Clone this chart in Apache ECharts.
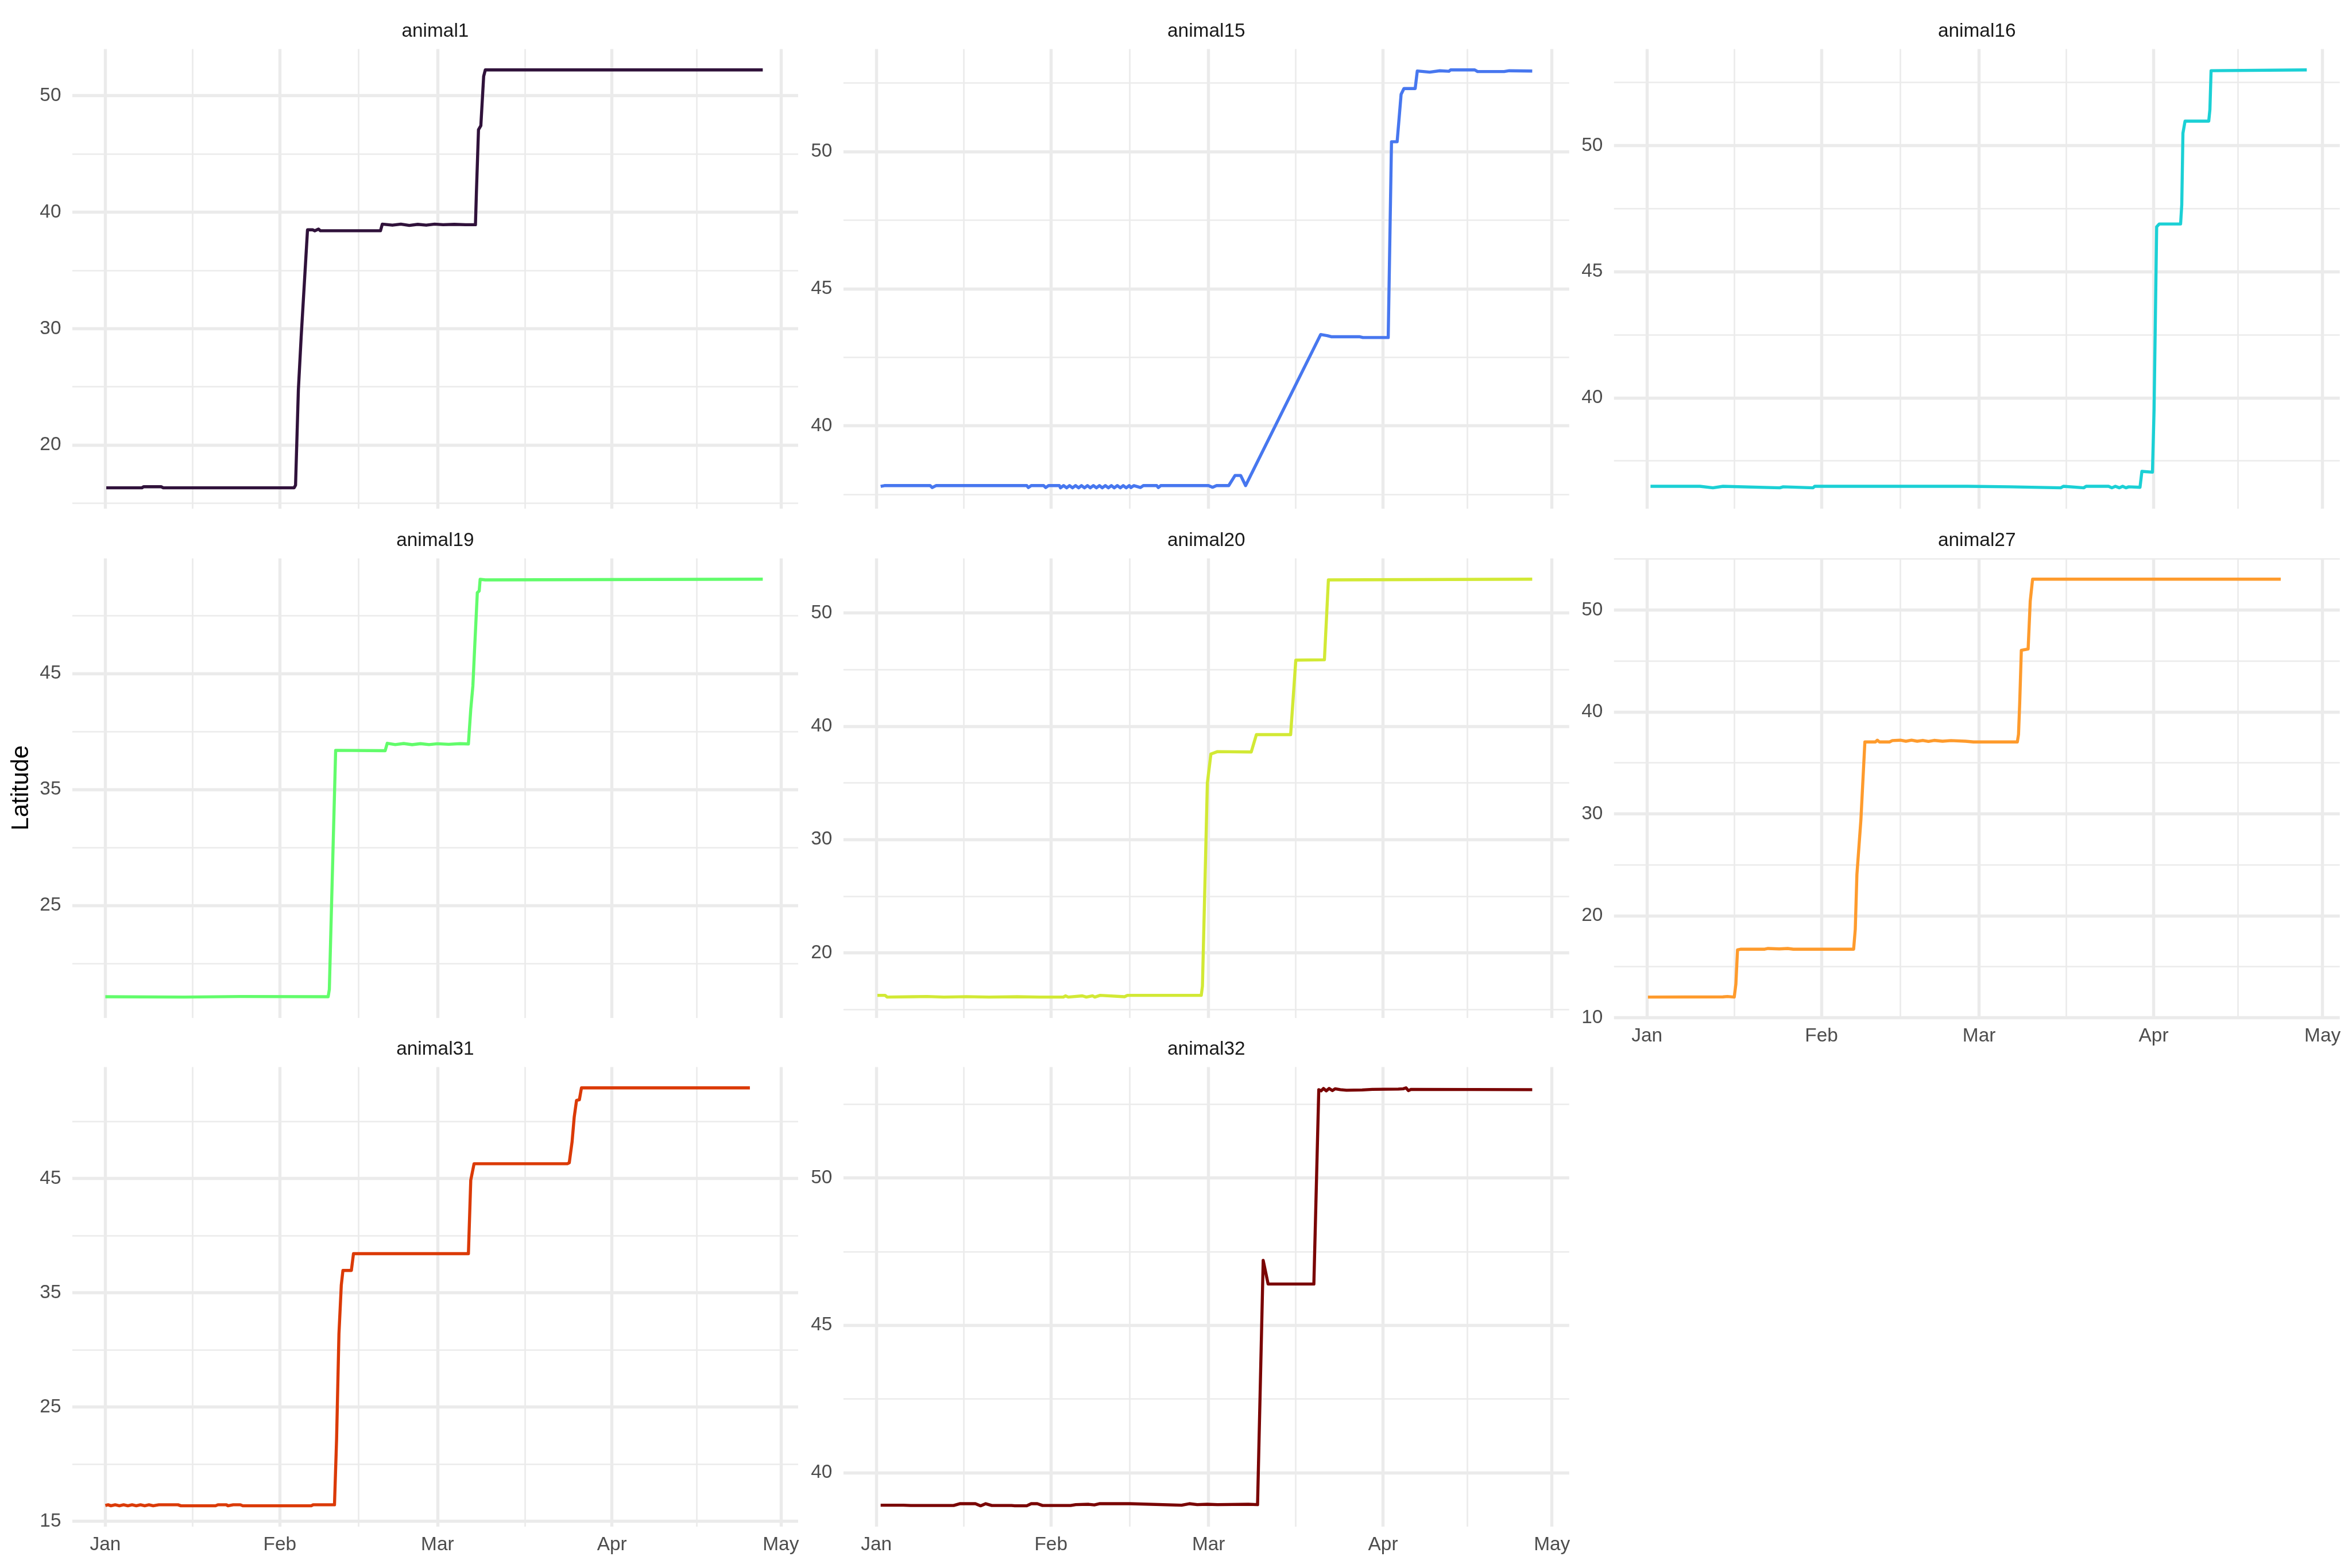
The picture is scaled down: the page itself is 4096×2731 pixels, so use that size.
<!DOCTYPE html>
<html><head><meta charset="utf-8">
<script src="https://cdn.jsdelivr.net/npm/echarts@6/dist/echarts.min.js"></script>
<style>html,body{margin:0;padding:0;background:#fff}#c{width:4096px;height:2731px}</style>
</head><body><div id="c"></div><script>
// ---------------- data ----------------
const panelNames = ['animal1','animal15','animal16','animal19','animal20','animal27','animal31','animal32'];
const panelColors = ['#30123B','#4777EF','#1BD0D5','#62FC6B','#D2E935','#FE9B2D','#DB3A07','#7A0403'];

const monthTickDates = ['2023-01-01 00:00','2023-02-01 00:00','2023-03-01 00:00','2023-04-01 00:00','2023-05-01 00:00'];
const monthTickLabels = ['Jan','Feb','Mar','Apr','May'];
const monthMinorDates = ['2023-01-16 12:00','2023-02-15 00:00','2023-03-16 12:00','2023-04-16 00:00'];

const yMajorTicks = [[20,30,40,50],[40,45,50],[40,45,50],[25,35,45],[20,30,40,50],[10,20,30,40,50],[15,25,35,45],[40,45,50]];
const yMinorTicks = [[15,25,35,45],[37.5,42.5,47.5,52.5],[37.5,42.5,47.5,52.5],[20,30,40,50],[15,25,35,45],[15,25,35,45,55],[20,30,40,50],[42.5,47.5,52.5]];

const animal1 = [['2023-01-01 04:00',16.33],['2023-01-07 12:00',16.33],['2023-01-07 19:00',16.42],['2023-01-10 22:00',16.42],['2023-01-11 07:00',16.33],['2023-02-03 13:00',16.33],['2023-02-03 19:00',16.56],['2023-02-04 07:00',24.73],['2023-02-04 19:00',29.31],['2023-02-05 22:00',38.48],['2023-02-06 20:00',38.48],['2023-02-07 05:00',38.40],['2023-02-07 21:00',38.54],['2023-02-08 05:00',38.40],['2023-02-18 21:00',38.40],['2023-02-19 05:00',38.97],['2023-02-21 00:00',38.88],['2023-02-22 12:00',38.97],['2023-02-24 00:00',38.86],['2023-02-25 12:00',38.95],['2023-02-27 00:00',38.88],['2023-02-28 12:00',38.97],['2023-03-02 00:00',38.92],['2023-03-04 00:00',38.95],['2023-03-06 00:00',38.92],['2023-03-07 18:00',38.92],['2023-03-07 22:00',41.63],['2023-03-08 07:00',47.08],['2023-03-08 17:00',47.42],['2023-03-09 05:00',51.66],['2023-03-09 12:00',52.21],['2023-04-27 19:00',52.21]];

const animal15 = [['2023-01-01 18:00',37.79],['2023-01-02 10:00',37.82],['2023-01-10 13:00',37.82],['2023-01-10 22:00',37.75],['2023-01-11 14:00',37.82],['2023-01-27 17:00',37.82],['2023-01-28 00:00',37.75],['2023-01-28 12:00',37.82],['2023-01-30 17:00',37.82],['2023-01-31 02:00',37.75],['2023-01-31 14:00',37.82],['2023-02-02 12:00',37.82],['2023-02-02 17:00',37.74],['2023-02-03 06:00',37.82],['2023-02-03 19:00',37.74],['2023-02-04 07:00',37.82],['2023-02-04 20:00',37.74],['2023-02-05 09:00',37.82],['2023-02-05 22:00',37.74],['2023-02-06 10:00',37.82],['2023-02-06 23:00',37.74],['2023-02-07 12:00',37.82],['2023-02-08 00:00',37.74],['2023-02-08 13:00',37.82],['2023-02-09 02:00',37.74],['2023-02-09 15:00',37.82],['2023-02-10 03:00',37.74],['2023-02-10 16:00',37.82],['2023-02-11 05:00',37.74],['2023-02-11 18:00',37.82],['2023-02-12 06:00',37.74],['2023-02-12 19:00',37.82],['2023-02-13 08:00',37.74],['2023-02-13 20:00',37.82],['2023-02-14 09:00',37.74],['2023-02-14 22:00',37.82],['2023-02-15 05:00',37.75],['2023-02-15 18:00',37.82],['2023-02-16 22:00',37.75],['2023-02-17 10:00',37.82],['2023-02-19 19:00',37.82],['2023-02-20 02:00',37.75],['2023-02-20 12:00',37.82],['2023-03-01 00:00',37.82],['2023-03-01 17:00',37.76],['2023-03-02 10:00',37.82],['2023-03-04 14:00',37.82],['2023-03-05 17:00',38.19],['2023-03-06 17:00',38.19],['2023-03-07 14:00',37.82],['2023-03-20 22:00',43.33],['2023-03-22 02:00',43.29],['2023-03-22 19:00',43.25],['2023-03-27 19:00',43.25],['2023-03-28 10:00',43.22],['2023-04-01 22:00',43.22],['2023-04-02 12:00',50.36],['2023-04-03 12:00',50.36],['2023-04-04 05:00',52.09],['2023-04-04 17:00',52.30],['2023-04-06 17:00',52.30],['2023-04-07 02:00',52.94],['2023-04-09 07:00',52.90],['2023-04-11 02:00',52.95],['2023-04-12 17:00',52.93],['2023-04-13 00:00',52.98],['2023-04-17 07:00',52.98],['2023-04-17 19:00',52.92],['2023-04-22 12:00',52.92],['2023-04-23 10:00',52.95],['2023-04-27 12:00',52.94]];

const animal16 = [['2023-01-01 15:00',36.49],['2023-01-10 10:00',36.49],['2023-01-12 17:00',36.43],['2023-01-14 12:00',36.49],['2023-01-24 14:00',36.43],['2023-01-25 05:00',36.47],['2023-01-30 12:00',36.43],['2023-01-30 19:00',36.49],['2023-02-27 00:00',36.49],['2023-03-06 12:00',36.47],['2023-03-15 12:00',36.43],['2023-03-16 00:00',36.49],['2023-03-19 14:00',36.43],['2023-03-20 00:00',36.49],['2023-03-24 00:00',36.49],['2023-03-24 14:00',36.43],['2023-03-25 05:00',36.49],['2023-03-25 22:00',36.43],['2023-03-26 12:00',36.49],['2023-03-27 02:00',36.43],['2023-03-27 14:00',36.47],['2023-03-29 14:00',36.45],['2023-03-29 22:00',37.08],['2023-03-31 19:00',37.05],['2023-04-01 02:00',39.54],['2023-04-01 13:00',46.78],['2023-04-02 00:00',46.89],['2023-04-05 19:00',46.89],['2023-04-06 00:00',47.65],['2023-04-06 05:00',50.49],['2023-04-06 14:00',50.97],['2023-04-10 19:00',50.97],['2023-04-11 00:00',51.43],['2023-04-11 05:00',52.97],['2023-04-28 05:00',53.00]];

const animal19 = [['2023-01-01 00:00',17.12],['2023-01-15 00:00',17.09],['2023-01-25 00:00',17.14],['2023-02-09 14:00',17.12],['2023-02-09 19:00',17.75],['2023-02-10 10:00',29.26],['2023-02-10 22:00',38.38],['2023-02-19 17:00',38.35],['2023-02-20 02:00',38.99],['2023-02-21 12:00',38.88],['2023-02-23 00:00',38.97],['2023-02-24 12:00',38.87],['2023-02-26 00:00',38.96],['2023-02-27 12:00',38.88],['2023-03-01 00:00',38.95],['2023-03-03 00:00',38.90],['2023-03-05 00:00',38.96],['2023-03-06 12:00',38.93],['2023-03-06 22:00',41.92],['2023-03-07 07:00',43.94],['2023-03-07 14:00',46.96],['2023-03-08 02:00',51.99],['2023-03-08 10:00',52.14],['2023-03-08 14:00',53.14],['2023-03-09 12:00',53.09],['2023-04-27 19:00',53.15]];

const animal20 = [['2023-01-01 04:00',16.24],['2023-01-02 13:00',16.24],['2023-01-02 22:00',16.09],['2023-01-07 12:00',16.12],['2023-01-10 00:00',16.14],['2023-01-13 00:00',16.09],['2023-01-17 00:00',16.13],['2023-01-21 00:00',16.09],['2023-01-26 00:00',16.12],['2023-01-30 00:00',16.09],['2023-02-03 05:00',16.09],['2023-02-03 14:00',16.20],['2023-02-04 02:00',16.09],['2023-02-06 14:00',16.20],['2023-02-07 07:00',16.09],['2023-02-08 10:00',16.20],['2023-02-08 19:00',16.09],['2023-02-09 18:00',16.24],['2023-02-14 02:00',16.12],['2023-02-14 14:00',16.24],['2023-02-27 17:00',16.24],['2023-02-27 22:00',17.06],['2023-02-28 19:00',34.99],['2023-03-01 10:00',37.54],['2023-03-01 22:00',37.63],['2023-03-02 14:00',37.75],['2023-03-08 14:00',37.72],['2023-03-09 12:00',39.25],['2023-03-15 14:00',39.25],['2023-03-16 12:00',45.83],['2023-03-21 14:00',45.86],['2023-03-22 07:00',52.91],['2023-04-27 12:00',52.97]];

const animal27 = [['2023-01-01 04:00',12.01],['2023-01-14 12:00',12.03],['2023-01-15 07:00',12.07],['2023-01-16 12:00',12.01],['2023-01-16 19:00',13.29],['2023-01-17 02:00',16.64],['2023-01-17 17:00',16.71],['2023-01-21 22:00',16.71],['2023-01-22 12:00',16.78],['2023-01-24 12:00',16.74],['2023-01-26 00:00',16.78],['2023-01-27 00:00',16.71],['2023-02-06 17:00',16.71],['2023-02-07 00:00',18.66],['2023-02-07 07:00',24.03],['2023-02-08 00:00',29.40],['2023-02-08 17:00',37.05],['2023-02-10 14:00',37.05],['2023-02-10 22:00',37.22],['2023-02-11 07:00',37.05],['2023-02-13 02:00',37.05],['2023-02-13 14:00',37.18],['2023-02-15 00:00',37.22],['2023-02-16 00:00',37.12],['2023-02-17 00:00',37.22],['2023-02-18 00:00',37.12],['2023-02-19 00:00',37.20],['2023-02-20 00:00',37.10],['2023-02-21 00:00',37.20],['2023-02-22 12:00',37.12],['2023-02-24 00:00',37.18],['2023-02-26 14:00',37.12],['2023-02-28 00:00',37.05],['2023-03-07 19:00',37.05],['2023-03-08 00:00',37.79],['2023-03-08 05:00',40.81],['2023-03-08 12:00',46.04],['2023-03-09 17:00',46.17],['2023-03-10 02:00',50.87],['2023-03-10 12:00',53.02],['2023-04-23 14:00',53.02]];

const animal31 = [['2023-01-01 00:00',16.38],['2023-01-01 12:00',16.44],['2023-01-02 00:00',16.35],['2023-01-02 18:00',16.44],['2023-01-03 12:00',16.35],['2023-01-04 06:00',16.44],['2023-01-05 00:00',16.35],['2023-01-05 18:00',16.44],['2023-01-06 12:00',16.35],['2023-01-07 06:00',16.44],['2023-01-08 00:00',16.35],['2023-01-08 18:00',16.44],['2023-01-09 12:00',16.35],['2023-01-10 12:00',16.44],['2023-01-13 22:00',16.44],['2023-01-14 10:00',16.35],['2023-01-20 14:00',16.35],['2023-01-21 00:00',16.44],['2023-01-22 12:00',16.44],['2023-01-22 19:00',16.35],['2023-01-23 17:00',16.44],['2023-01-25 00:00',16.44],['2023-01-25 10:00',16.35],['2023-02-06 14:00',16.35],['2023-02-06 22:00',16.44],['2023-02-10 17:00',16.44],['2023-02-11 02:00',22.19],['2023-02-11 12:00',31.38],['2023-02-11 22:00',35.66],['2023-02-12 05:00',36.95],['2023-02-13 17:00',36.95],['2023-02-14 02:00',38.42],['2023-03-06 12:00',38.42],['2023-03-06 22:00',44.85],['2023-03-07 12:00',46.29],['2023-03-24 02:00',46.29],['2023-03-24 10:00',46.38],['2023-03-24 22:00',48.21],['2023-03-25 07:00',50.36],['2023-03-25 17:00',51.83],['2023-03-26 05:00',51.89],['2023-03-26 14:00',52.93],['2023-04-25 12:00',52.93]];

const animal32 = [['2023-01-01 18:00',38.90],['2023-01-05 19:00',38.90],['2023-01-07 02:00',38.89],['2023-01-14 17:00',38.89],['2023-01-15 19:00',38.95],['2023-01-18 14:00',38.95],['2023-01-19 12:00',38.88],['2023-01-20 10:00',38.95],['2023-01-21 12:00',38.89],['2023-01-25 00:00',38.89],['2023-01-25 14:00',38.88],['2023-01-27 17:00',38.88],['2023-01-28 12:00',38.95],['2023-01-29 14:00',38.95],['2023-01-30 12:00',38.89],['2023-02-04 12:00',38.89],['2023-02-05 10:00',38.92],['2023-02-07 17:00',38.93],['2023-02-08 17:00',38.91],['2023-02-09 14:00',38.95],['2023-02-15 02:00',38.95],['2023-02-24 05:00',38.90],['2023-02-25 14:00',38.95],['2023-02-27 00:00',38.92],['2023-02-28 19:00',38.93],['2023-03-02 14:00',38.92],['2023-03-08 02:00',38.93],['2023-03-09 17:00',38.92],['2023-03-10 17:00',47.20],['2023-03-11 14:00',46.40],['2023-03-19 17:00',46.40],['2023-03-20 14:00',52.99],['2023-03-21 00:00',52.95],['2023-03-21 10:00',53.03],['2023-03-21 22:00',52.95],['2023-03-22 10:00',53.03],['2023-03-23 00:00',52.96],['2023-03-23 12:00',53.02],['2023-03-24 10:00',52.99],['2023-03-25 12:00',52.97],['2023-03-28 07:00',52.98],['2023-03-30 02:00',53.00],['2023-04-03 17:00',53.01],['2023-04-04 14:00',53.02],['2023-04-05 02:00',53.05],['2023-04-05 12:00',52.96],['2023-04-06 00:00',53.00],['2023-04-27 12:00',52.99]];

// ---------------- layout ----------------
const S = 4096 / 4500;
const FONT = '"Liberation Sans", Arial, Helvetica, sans-serif';
const colLeft = [138.4, 1613.7, 3088.0];
const rowTop = [93.8, 1068.3, 2041.7];
const panelW = 1388.6, panelH = 879.6;
const showXLabels = [false, false, false, false, false, true, true, true];

function ts(s) {
  const p = s.split(/[- :]/).map(Number);
  return new Date(p[0], p[1] - 1, p[2], p[3], p[4]).getTime();
}

const rawSeries = [animal1, animal15, animal16, animal19, animal20, animal27, animal31, animal32];
const seriesData = rawSeries.map(a => a.map(p => [ts(p[0]), p[1]]));
let xmin = Infinity, xmax = -Infinity;
seriesData.forEach(d => d.forEach(p => { xmin = Math.min(xmin, p[0]); xmax = Math.max(xmax, p[0]); }));
const xr = xmax - xmin;
const xLo = xmin - 0.05 * xr, xHi = xmax + 0.05 * xr;

const monthTs = monthTickDates.map(ts);
const monthMinorTs = monthMinorDates.map(ts);
function monthFmt(v) {
  for (let k = 0; k < monthTs.length; k++) if (Math.abs(v - monthTs[k]) < 3600e3) return monthTickLabels[k];
  return '';
}

const grids = [], xAxes = [], yAxes = [], series = [], graphics = [];
const majorW = 5.4, minorW = 2.7, gridColor = '#EBEBEB';
const fs = 33.4;

for (let pass = 0; pass < 2; pass++) {
  for (let i = 0; i < 8; i++) {
    const r = Math.floor(i / 3), c = i % 3;
    const left = colLeft[c] * S, top = rowTop[r] * S, w = panelW * S, h = panelH * S;
    const gi = pass * 8 + i;
    grids.push({ left: left, top: top, width: w, height: h, containLabel: false, outerBoundsMode: 'none' });
    const lats = seriesData[i].map(p => p[1]);
    const ymin = Math.min.apply(null, lats), ymax = Math.max.apply(null, lats);
    const yr = ymax - ymin;
    const yLo = ymin - 0.05 * yr, yHi = ymax + 0.05 * yr;
    const major = pass === 0;
    xAxes.push({
      type: 'value', gridIndex: gi, min: xLo, max: xHi, scale: true,
      axisLine: { show: false },
      axisTick: { show: false, customValues: major ? monthTs : monthMinorTs },
      axisLabel: major && showXLabels[i] ? {
        show: true, customValues: monthTs, formatter: monthFmt, margin: 15,
        fontSize: fs, fontFamily: FONT, color: '#4D4D4D', hideOverlap: false
      } : { show: false },
      splitLine: { show: true, lineStyle: { color: gridColor, width: major ? majorW : minorW } },
      minorTick: { show: false }, minorSplitLine: { show: false }
    });
    yAxes.push({
      type: 'value', gridIndex: gi, min: yLo, max: yHi, scale: true,
      axisLine: { show: false },
      axisTick: { show: false, customValues: major ? yMajorTicks[i] : yMinorTicks[i] },
      axisLabel: major ? {
        show: true, customValues: yMajorTicks[i], margin: 19.5,
        fontSize: fs, fontFamily: FONT, color: '#4D4D4D'
      } : { show: false },
      splitLine: { show: true, lineStyle: { color: gridColor, width: major ? majorW : minorW } },
      minorTick: { show: false }, minorSplitLine: { show: false }
    });
    if (major) {
      series.push({
        type: 'line', name: panelNames[i], xAxisIndex: gi, yAxisIndex: gi,
        data: seriesData[i], showSymbol: false, symbol: 'none', silent: true,
        lineStyle: { width: 5.4, color: panelColors[i], join: 'round', cap: 'butt' },
        itemStyle: { color: panelColors[i] }, z: 5
      });
      graphics.push({
        type: 'text', x: left + w / 2, y: top - 31, silent: true,
        style: { text: panelNames[i], fontSize: fs, fontFamily: FONT, fill: '#1A1A1A',
          align: 'center', textAlign: 'center', verticalAlign: 'middle', textVerticalAlign: 'middle' }
      });
    }
  }
}

const yTitleY = (rowTop[0] + rowTop[2] + panelH) / 2 * S;
graphics.push({
  type: 'text', x: 37.5, y: yTitleY, rotation: Math.PI / 2, silent: true,
  style: { text: 'Latitude', fontSize: 41.7, fontFamily: FONT, fill: '#000000',
    align: 'center', textAlign: 'center', verticalAlign: 'middle', textVerticalAlign: 'middle' }
});

const chart = echarts.init(document.getElementById('c'), null, { renderer: 'canvas' });
chart.setOption({
  backgroundColor: '#ffffff',
  animation: false,
  grid: grids, xAxis: xAxes, yAxis: yAxes, series: series,
  graphic: graphics
});
</script></body></html>
